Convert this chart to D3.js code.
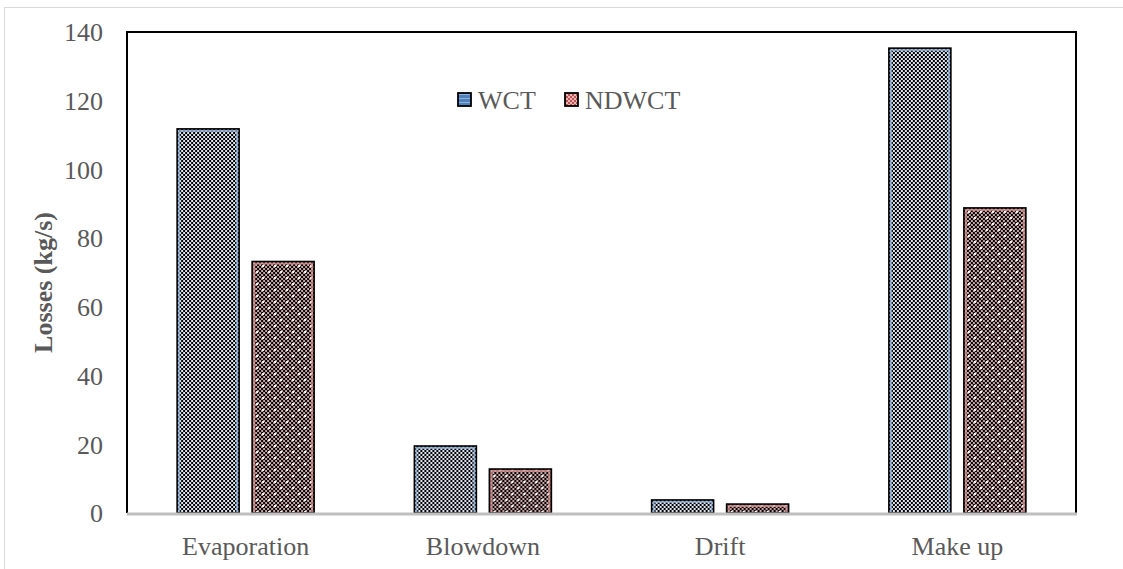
<!DOCTYPE html>
<html>
<head>
<meta charset="utf-8">
<script src="https://cdn.jsdelivr.net/npm/d3@7"></script>
<style>
  html, body { margin: 0; padding: 0; background: #ffffff; }
  svg { display: block; }
  text { font-family: "Liberation Serif", "Times New Roman", serif; }
</style>
</head>
<body>
<svg id="chart" width="1123" height="569"></svg>
<script>
const categories = ["Evaporation", "Blowdown", "Drift", "Make up"];
const seriesNames = ["WCT", "NDWCT"];
const wctValues = [111.8, 19.5, 3.8, 135.3];
const ndwctValues = [73.2, 12.8, 2.6, 88.8];
const yTicks = [0, 20, 40, 60, 80, 100, 120, 140];
const yLabel = "Losses (kg/s)";

const svg = d3.select("#chart");
const margin = { left: 127, top: 32, right: 1076, bottom: 513 };

// outer chart border
svg.append("rect").attr("x", 4.5).attr("y", 7.5).attr("width", 1200).attr("height", 700)
  .attr("fill", "#fff").attr("stroke", "#d9d9d9").attr("stroke-width", 1);

// patterns
const defs = svg.append("defs");
const pW = defs.append("pattern").attr("id", "patWCT").attr("patternUnits", "userSpaceOnUse")
  .attr("width", 4).attr("height", 4);
pW.append("rect").attr("width", 4).attr("height", 4).attr("fill", "#dce4ef");
pW.append("rect").attr("x", 0).attr("y", 0).attr("width", 2).attr("height", 2).attr("fill", "#000");
pW.append("rect").attr("x", 2).attr("y", 2).attr("width", 2).attr("height", 2).attr("fill", "#000");

const pN = defs.append("pattern").attr("id", "patND").attr("patternUnits", "userSpaceOnUse")
  .attr("width", 12).attr("height", 12);
pN.append("rect").attr("width", 12).attr("height", 12).attr("fill", "#c9a3a3");
for (let i = 0; i < 6; i++) for (let j = 0; j < 6; j++) {
  if ((i + j) % 2 === 0) {
    pN.append("rect").attr("x", i * 2).attr("y", j * 2).attr("width", 2).attr("height", 2)
      .attr("fill", "#000");
  }
}
pN.append("rect").attr("x", 1).attr("y", 1).attr("width", 2).attr("height", 2).attr("fill", "#ffffff");
pN.append("rect").attr("x", 7).attr("y", 7).attr("width", 2).attr("height", 2).attr("fill", "#ffffff");

const lgW = defs.append("pattern").attr("id", "legWCT").attr("patternUnits", "userSpaceOnUse")
  .attr("width", 4).attr("height", 4);
lgW.append("rect").attr("width", 4).attr("height", 4).attr("fill", "#4f81bd");
lgW.append("rect").attr("y", 2).attr("width", 4).attr("height", 1).attr("fill", "#8eb1dc");
const lgN = defs.append("pattern").attr("id", "legND").attr("patternUnits", "userSpaceOnUse")
  .attr("width", 4).attr("height", 4);
lgN.append("rect").attr("width", 4).attr("height", 4).attr("fill", "#c0504d");
lgN.append("rect").attr("x", 0).attr("y", 0).attr("width", 2).attr("height", 2).attr("fill", "#e6b9b8");
lgN.append("rect").attr("x", 2).attr("y", 2).attr("width", 2).attr("height", 2).attr("fill", "#e6b9b8");

const y = d3.scaleLinear().domain([0, 140]).range([margin.bottom, margin.top]);
const x0 = d3.scaleBand().domain(categories).range([margin.left, margin.right]).padding(0);
const groupW = 137;
const x1 = d3.scaleBand().domain(seriesNames).range([0, groupW]).paddingInner(13 / 75).paddingOuter(0);

const data = categories.map((c, i) => ({ cat: c, vals: [
  { s: "WCT", v: wctValues[i] }, { s: "NDWCT", v: ndwctValues[i] } ] }));

const fills = { WCT: "url(#patWCT)", NDWCT: "url(#patND)" };
const edge = { WCT: "#95b3d7", NDWCT: "#d99694" };

const groups = svg.append("g").selectAll("g").data(data).join("g")
  .attr("transform", d => `translate(${x0(d.cat) + (x0.bandwidth() - groupW) / 2},0)`);
groups.selectAll("g.bar").data(d => d.vals).join("g").attr("class", "bar").each(function(d) {
  const g = d3.select(this);
  const bx = x1(d.s), bw = x1.bandwidth(), by = y(d.v), bh = y(0) - y(d.v);
  g.append("rect").attr("x", bx).attr("y", by).attr("width", bw).attr("height", bh)
    .attr("fill", fills[d.s]);
  if (bh > 6) {
    g.append("rect").attr("x", bx + 2).attr("y", by + 2).attr("width", bw - 4).attr("height", Math.max(0, bh - 2))
      .attr("fill", "none").attr("stroke", edge[d.s]).attr("stroke-width", 2).attr("opacity", 0.8);
  }
  g.append("rect").attr("x", bx).attr("y", by).attr("width", bw).attr("height", bh)
    .attr("fill", "none").attr("stroke", "#000").attr("stroke-width", 1.6);
});

// plot frame
svg.append("path")
  .attr("d", `M${margin.left},${margin.bottom}V${margin.top}H${margin.right}V${margin.bottom}`)
  .attr("fill", "none").attr("stroke", "#000").attr("stroke-width", 2);
svg.append("line").attr("x1", margin.left).attr("x2", margin.right + 1)
  .attr("y1", margin.bottom + 1).attr("y2", margin.bottom + 1)
  .attr("stroke", "#bfbfbf").attr("stroke-width", 3);

// y axis
const yAxis = svg.append("g").attr("transform", `translate(${margin.left},0)`)
  .call(d3.axisLeft(y).tickValues(yTicks).tickSize(0).tickPadding(24));
yAxis.select(".domain").remove();
yAxis.selectAll("text").attr("font-size", 26).attr("fill", "#595959")
  .attr("font-family", "Liberation Serif, Times New Roman, serif").attr("dy", "0.34em");

// x axis
const xAxis = svg.append("g").attr("transform", `translate(0,${margin.bottom})`)
  .call(d3.axisBottom(x0).tickSize(0).tickPadding(24));
xAxis.select(".domain").remove();
xAxis.selectAll("text").attr("font-size", 26).attr("fill", "#595959")
  .attr("font-family", "Liberation Serif, Times New Roman, serif");

// y label
svg.append("text").attr("transform", `translate(52,${(margin.top + margin.bottom) / 2 + 10}) rotate(-90)`)
  .attr("text-anchor", "middle").attr("font-size", 26).attr("font-weight", "bold")
  .attr("fill", "#595959").text(yLabel);

// legend
const leg = svg.append("g");
const legItems = [{ s: "WCT", x: 458, fill: "url(#legWCT)" }, { s: "NDWCT", x: 565, fill: "url(#legND)" }];
legItems.forEach(it => {
  leg.append("rect").attr("x", it.x).attr("y", 93).attr("width", 13).attr("height", 13)
    .attr("fill", it.fill).attr("stroke", "#000").attr("stroke-width", 1.8);
  leg.append("text").attr("x", it.x + 20).attr("y", 100).attr("dy", "0.35em")
    .attr("font-size", 26).attr("fill", "#595959").text(it.s);
});
</script>
</body>
</html>
